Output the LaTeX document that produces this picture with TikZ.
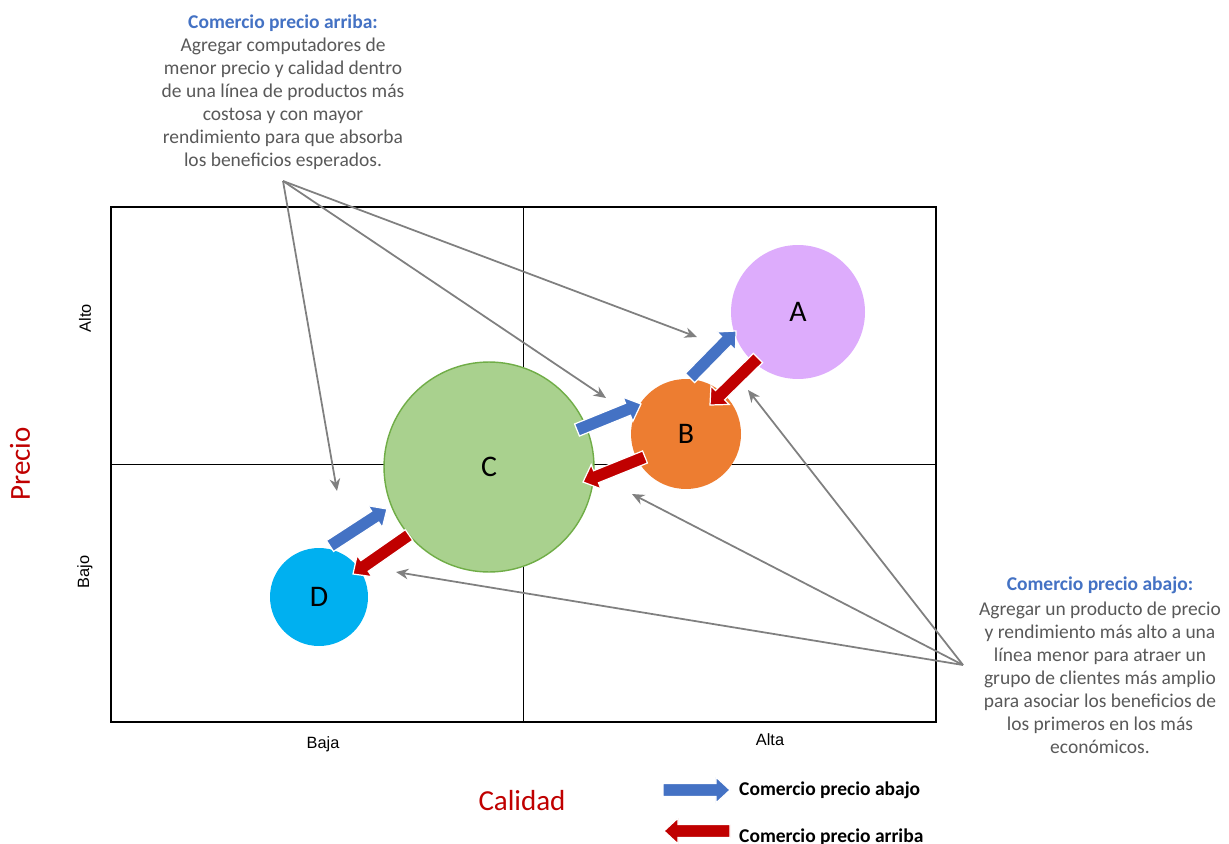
\documentclass[tikz,border=0pt]{standalone}
\usepackage{fontspec}
\setmainfont{Carlito}
\newfontfamily\arialf{Liberation Sans}
\usetikzlibrary{arrows.meta,calc}
\definecolor{cA}{RGB}{221,172,252}
\definecolor{cB}{RGB}{237,125,49}
\definecolor{cC}{RGB}{169,209,142}
\definecolor{cCb}{RGB}{112,173,71}
\definecolor{cD}{RGB}{0,176,240}
\definecolor{bluearr}{RGB}{68,114,196}
\definecolor{redarr}{RGB}{192,0,0}
\definecolor{graytxt}{RGB}{89,89,89}
\definecolor{grayarr}{RGB}{128,128,128}
\definecolor{headblue}{RGB}{68,114,196}
\newcommand{\blockarr}[3]{%
  \coordinate (bah) at ($(#3)!8pt!(#2)$);
  \fill[#1, draw=white, line width=0.7pt]
    ($(#2)!3.7pt!90:(#3)$) -- ($(bah)!3.7pt!90:(#3)$) -- ($(bah)!7.4pt!90:(#3)$) -- (#3)
    -- ($(bah)!7.4pt!-90:(#3)$) -- ($(bah)!3.7pt!-90:(#3)$) -- ($(#2)!3.7pt!-90:(#3)$) -- cycle;}
\tikzset{
  bubble/.style={circle, inner sep=0pt, font=\fontsize{17}{20}\selectfont},
  frame/.style={draw=black, line width=0.8pt},
  note/.style={align=center, text=graytxt, font=\fontsize{11.1}{13.1}\selectfont},
  pointer/.style={draw=grayarr, line width=1pt, -{Stealth[length=7pt,width=6pt]}},
  axlab/.style={font=\arialf\fontsize{9.3}{11}\selectfont},
  bigred/.style={text=redarr, font=\fontsize{16.5}{19}\selectfont},
  legend/.style={anchor=west, font=\bfseries\fontsize{11.1}{13}\selectfont}
}
\begin{document}
\begin{tikzpicture}[x=0.02cm, y=-0.02cm]
\useasboundingbox (0,0) rectangle (1229,844);
\fill[white] (0,0) rectangle (1229,844);
% frame
\node[frame, minimum width=16.5cm, minimum height=10.3cm, inner sep=0pt] (box) at (523.5,464.5) {};
\draw[frame] (box.north) -- (box.south);
\draw[frame] (box.west) -- (box.east);
% bubbles
\node[bubble, fill=cA, minimum size=2.68cm] (A) at (798,312) {A};
\node[bubble, fill=cB, minimum size=2.2cm] (B) at (686,434) {B};
\node[bubble, fill=cC, draw=cCb, line width=0.8pt, minimum size=4.2cm] (C) at (489,467) {C};
\node[bubble, fill=cD, minimum size=1.96cm] (D) at (319,597) {D};
% block arrow ends
\coordinate (a1s) at (690,378); \coordinate (a1e) at (736,331);
\coordinate (a2s) at (758,358); \coordinate (a2e) at (710,405);
\coordinate (a3s) at (577,430); \coordinate (a3e) at (641,404);
\coordinate (a4s) at (645,457); \coordinate (a4e) at (583,482);
\coordinate (a5s) at (330,546); \coordinate (a5e) at (387,509);
\coordinate (a6s) at (409,535); \coordinate (a6e) at (353,574);
\blockarr{bluearr}{a1s}{a1e}
\blockarr{redarr}{a2s}{a2e}
\blockarr{bluearr}{a3s}{a3e}
\blockarr{redarr}{a4s}{a4e}
\blockarr{bluearr}{a5s}{a5e}
\blockarr{redarr}{a6s}{a6e}
% axis labels
\node[axlab, rotate=90] (alto) at (85,318) {Alto};
\node[axlab, rotate=90] (bajo) at (85,572) {Bajo};
\node[axlab] (baja) at (323,744) {Baja};
\node[axlab] (alta) at (770,740) {Alta};
\node[bigred] (calidad) at (522,801) {Calidad};
\node[bigred, rotate=90] (precio) at (20,464) {Precio};
% notes
\node[note] (up) at (283,92) {{\bfseries\color{headblue}Comercio precio arriba:}\\Agregar computadores de\\menor precio y calidad dentro\\de una línea de productos más\\costosa y con mayor\\rendimiento para que absorba\\los beneficios esperados.};
\node[note] (down) at (1100,665) {{\bfseries\color{headblue}Comercio precio abajo:}\\[1pt]Agregar un producto de precio\\y rendimiento más alto a una\\línea menor para atraer un\\grupo de clientes más amplio\\para asociar los beneficios de\\los primeros en los más\\económicos.};
% pointers
\coordinate (upsrc) at (283,181);
\coordinate (u1) at (697,337);
\coordinate (u2) at (606,398);
\coordinate (u3) at (337,491);
\draw[pointer] (upsrc) -- (u1);
\draw[pointer] (upsrc) -- (u2);
\draw[pointer] (upsrc) -- (u3);
\coordinate (dnsrc) at (963,665);
\coordinate (d1) at (748,390);
\coordinate (d2) at (632,494);
\coordinate (d3) at (396,572);
\draw[pointer] (dnsrc) -- (d1);
\draw[pointer] (dnsrc) -- (d2);
\draw[pointer] (dnsrc) -- (d3);
% legend
\coordinate (l1s) at (663,790); \coordinate (l1e) at (730,790);
\coordinate (l2s) at (730,831); \coordinate (l2e) at (664,831);
\blockarr{bluearr}{l1s}{l1e}
\blockarr{redarr}{l2s}{l2e}
\node[legend] (lg1) at (733,790) {Comercio precio abajo};
\node[legend] (lg2) at (733,837) {Comercio precio arriba};
\end{tikzpicture}
\end{document}
